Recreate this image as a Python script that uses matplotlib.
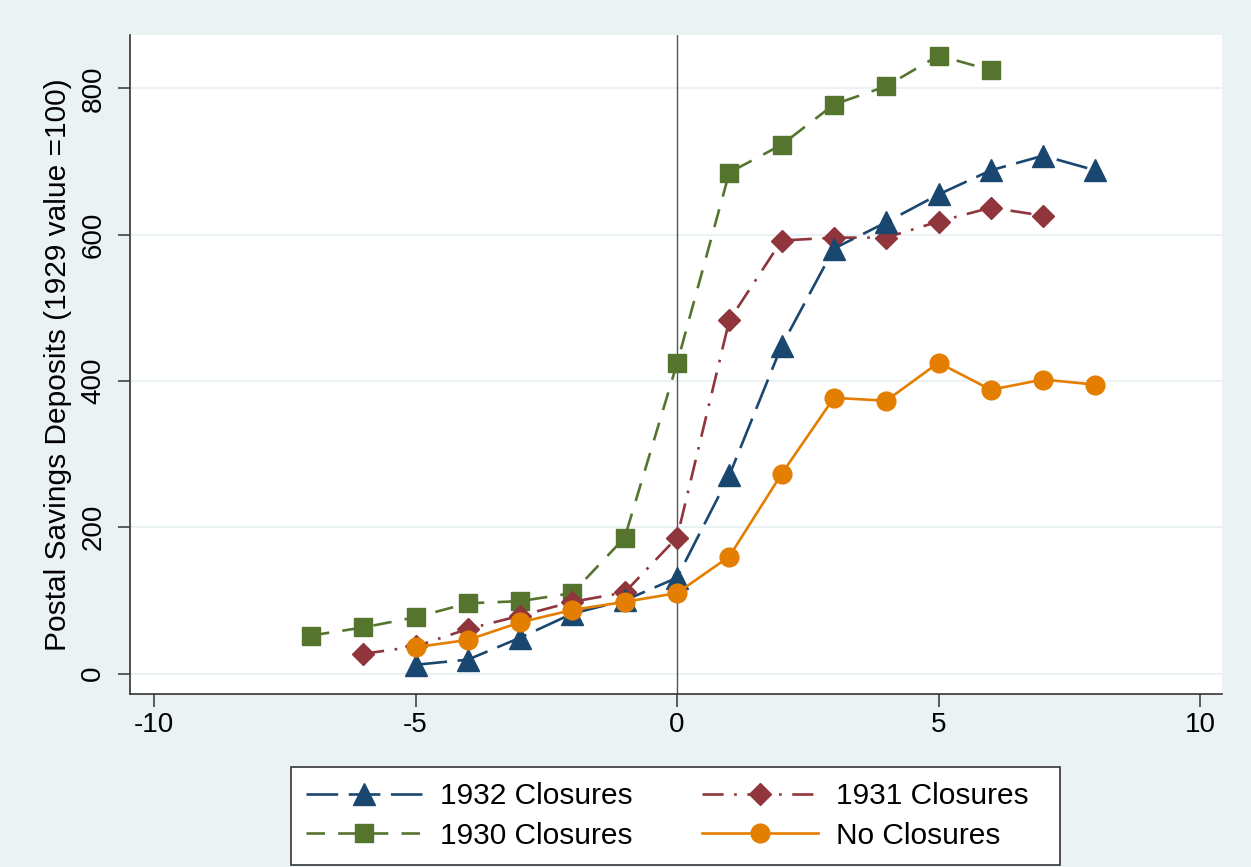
import numpy as np
import matplotlib.pyplot as plt
from matplotlib.lines import Line2D

plt.rcParams['font.family'] = ['Liberation Sans', 'DejaVu Sans']
plt.rcParams['axes.unicode_minus'] = False

# event time (years relative to closure)
x_1932 = [-5, -4, -3, -2, -1, 0, 1, 2, 3, 4, 5, 6, 7, 8]
y_1932 = [12, 19, 49, 82, 100, 131, 271, 448, 581, 617, 655, 688, 708, 688]

x_1931 = [-6, -5, -4, -3, -2, -1, 0, 1, 2, 3, 4, 5, 6, 7]
y_1931 = [27, 37, 61, 79, 98, 111, 186, 483, 592, 596, 596, 618, 637, 626]

x_1930 = [-7, -6, -5, -4, -3, -2, -1, 0, 1, 2, 3, 4, 5, 6]
y_1930 = [52, 63, 77, 96, 99, 110, 186, 424, 685, 723, 778, 803, 845, 825]

x_none = [-5, -4, -3, -2, -1, 0, 1, 2, 3, 4, 5, 6, 7, 8]
y_none = [36, 46, 70, 87, 98, 110, 160, 273, 377, 373, 425, 388, 402, 395]

xticks = [-10, -5, 0, 5, 10]
yticks = [0, 200, 400, 600, 800]

bg = "#EAF2F3"
navy, maroon, green, orange = "#1A476F", "#90353B", "#55752F", "#E37E00"

fig = plt.figure(figsize=(12.51, 8.67), dpi=100, facecolor=bg)
ax = fig.add_axes([0.1039, 0.1995, 0.8729, 0.7601])
ax.set_facecolor("white")

lw = 1.9
sty_1932 = dict(color=navy, lw=lw, dashes=(12, 4), marker="^", ms=15.5)
sty_1931 = dict(color=maroon, lw=lw, dashes=(8, 4, 1, 4), marker="D", ms=11.5)
sty_1930 = dict(color=green, lw=lw, dashes=(7, 5), marker="s", ms=12.5)
sty_none = dict(color=orange, lw=lw, marker="o", ms=13.5)

ax.plot(x_1930, y_1930, zorder=3, **sty_1930)
ax.plot(x_1931, y_1931, zorder=4, **sty_1931)
ax.plot(x_1932, y_1932, zorder=5, **sty_1932)
ax.plot(x_none, y_none, zorder=6, **sty_none)

ax.axvline(0, color="#555555", lw=1.0, zorder=2)

ax.set_xlim(-10.46, 10.42)
ax.set_ylim(-28, 873)
ax.set_xticks(xticks)
ax.set_yticks(yticks)
ax.yaxis.grid(True, color=bg, lw=1.5)
ax.set_axisbelow(True)

for s in ["top", "right"]:
    ax.spines[s].set_visible(False)
for s in ["left", "bottom"]:
    ax.spines[s].set_color("#333333")
    ax.spines[s].set_linewidth(1.2)

ax.tick_params(axis="both", labelsize=20, length=9, width=1.1, color="#333333")
ax.tick_params(axis="x", pad=4)
ax.tick_params(axis="y", pad=8)
for lab in ax.get_yticklabels():
    lab.set_rotation(90)
    lab.set_va("center")

ax.set_ylabel("Postal Savings Deposits (1929 value =100)", fontsize=21.5, labelpad=6)

handles = [Line2D([], [], **sty_1932), Line2D([], [], **sty_1930),
           Line2D([], [], **sty_1931), Line2D([], [], **sty_none)]
labels = ["1932 Closures", "1930 Closures", "1931 Closures  ", "No Closures"]
leg = fig.legend(handles, labels, ncol=2, loc="lower center",
                 bbox_to_anchor=(0.2326, 0.0025, 0.6147, 0.1135), mode="expand",
                 fontsize=21.5, frameon=True, fancybox=False, framealpha=1,
                 facecolor="white", edgecolor="#333333",
                 handlelength=3.9, handletextpad=0.6, borderpad=0.5,
                 labelspacing=0.4, columnspacing=1.0, borderaxespad=0)
leg.get_frame().set_linewidth(1.2)

fig.savefig("out.png", dpi=100, facecolor=bg)
